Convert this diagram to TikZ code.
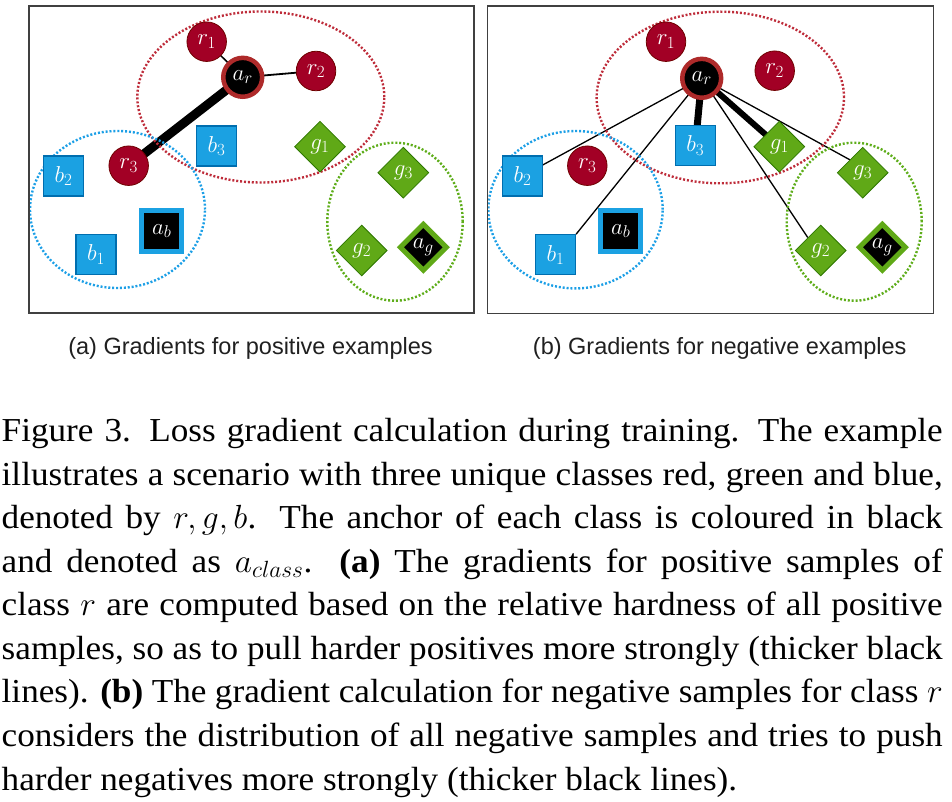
\RequirePackage{fix-cm}
\documentclass[tikz,border=0pt]{standalone}
\usepackage{fontspec}
\setmainfont[FakeStretch=1.05]{Liberation Serif}
\newfontfamily\capsans{Liberation Sans}
\usetikzlibrary{shapes.geometric}
\DeclareMathSizes{23}{23}{17}{13}
\definecolor{rfill}{HTML}{A20025}
\definecolor{rdraw}{HTML}{6F0000}
\definecolor{ring}{HTML}{AE2A2A}
\definecolor{bfill}{HTML}{1BA1E2}
\definecolor{bdraw}{HTML}{006EAF}
\definecolor{gfill}{HTML}{60A917}
\definecolor{gdraw}{HTML}{2D7600}
\definecolor{dotred}{HTML}{BE2C3A}
\definecolor{dotblue}{HTML}{1C9FE6}
\definecolor{dotgreen}{HTML}{5EAD1A}
\definecolor{framegray}{HTML}{404040}
\definecolor{capgray}{HTML}{202020}
\pgfdeclarelayer{bg}
\pgfdeclarelayer{mid}
\pgfsetlayers{bg,mid,main}
\tikzset{
  lab/.style={text=white,font=\fontsize{23}{23}\selectfont,inner sep=0pt},
  rnode/.style={lab,circle,fill=rfill,draw=rdraw,line width=0.8pt,minimum size=39.5pt},
  ranc/.style={lab,circle,fill=black,draw=ring,line width=4.5pt,minimum size=38.9pt},
  bnode/.style={lab,rectangle,fill=bfill,draw=bdraw,line width=1.2pt,minimum size=40pt},
  banc/.style={lab,rectangle,fill=black,draw=bfill,line width=5pt,minimum size=40pt},
  gnode/.style={lab,diamond,aspect=1,fill=gfill,draw=gdraw,line width=0.8pt,minimum size=51pt},
  ganc/.style={lab,diamond,aspect=1,fill=black,draw=gfill,line width=5pt,minimum size=48pt},
  link/.style={draw=black,line width=#1},
  elli/.style={draw=#1,line width=2.4pt,dash pattern=on 2pt off 1.9pt},
  panelframe/.style={draw=framegray,line width=1.3pt},
  subcap/.style={anchor=base,inner sep=0pt,text=capgray,font=\capsans\fontsize{23.5}{28}\selectfont},
  body/.style={anchor=base west,inner sep=0pt,font=\fontsize{33.5}{43.5}\selectfont}
}
\begin{document}
\begin{tikzpicture}[x=1pt,y=-1pt]
\useasboundingbox (0,0) rectangle (952,802);
% frames
\draw[panelframe] (29,6) rectangle (474,313);
\draw[panelframe] (487.7,6) rectangle (933.3,313.3);
% ---------- panel (a) ----------
\node[rnode] (ar1) at (206.7,41.7) {$r_1$};
\node[ranc]  (aar) at (242.7,77.3) {$a_r$};
\node[rnode] (ar2) at (316,71) {$r_2$};
\node[rnode] (ar3) at (128.7,165.7) {$r_3$};
\node[bnode] (ab3) at (216.5,146) {$b_3$};
\node[gnode] (ag1) at (320,146.7) {$g_1$};
\node[bnode] (ab2) at (63.5,176) {$b_2$};
\node[banc]  (aab) at (161.7,231) {$a_b$};
\node[bnode] (ab1) at (96,254.7) {$b_1$};
\node[gnode] (ag3) at (403.3,172.7) {$g_3$};
\node[gnode] (ag2) at (361.7,250.5) {$g_2$};
\node[ganc]  (aag) at (423.3,247.3) {$a_g$};
% ---------- panel (b) ----------
\node[rnode] (br1) at (666,41.7) {$r_1$};
\node[ranc]  (bar) at (701.7,78.3) {$a_r$};
\node[rnode] (br2) at (774.7,70.7) {$r_2$};
\node[rnode] (br3) at (587.3,165.7) {$r_3$};
\node[bnode] (bb3) at (695.3,145.7) {$b_3$};
\node[gnode] (bg1) at (779.3,146.7) {$g_1$};
\node[bnode] (bb2) at (522.5,176) {$b_2$};
\node[banc]  (bab) at (620.7,231) {$a_b$};
\node[bnode] (bb1) at (555.5,254.8) {$b_1$};
\node[gnode] (bg3) at (862.7,172.7) {$g_3$};
\node[gnode] (bg2) at (820.7,250.5) {$g_2$};
\node[ganc]  (bag) at (882.3,247.3) {$a_g$};
% connectors
\begin{pgfonlayer}{bg}
\draw[link=1.5pt] (aar.center) -- (ar1.center);
\draw[link=1.8pt] (aar.center) -- (ar2.center);
\draw[link=9pt]   (aar.center) -- (ar3.center);
\draw[link=1.3pt] (bar.center) -- (bb2.center);
\draw[link=1.3pt] (bar.center) -- (bb1.north east);
\draw[link=7pt]   (bar.center) -- (bb3.center);
\draw[link=6pt]   (bar.center) -- (bg1.center);
\draw[link=1.3pt] (bar.center) -- (bg3.north west);
\draw[link=1.3pt] (bar.center) -- (bg2.north west);
\end{pgfonlayer}
% class ellipses
\begin{pgfonlayer}{mid}
\draw[elli=dotred]   (260.8,97) ellipse [x radius=123.5pt,y radius=85.5pt];
\draw[elli=dotblue]  (117.5,209.5) ellipse [x radius=87.5pt,y radius=78.5pt];
\draw[elli=dotgreen] (395,221.7) ellipse [x radius=67.7pt,y radius=79pt];
\draw[elli=dotred]   (720.3,97.5) ellipse [x radius=123.7pt,y radius=85.8pt];
\draw[elli=dotblue]  (575.5,209.7) ellipse [x radius=87.2pt,y radius=78.7pt];
\draw[elli=dotgreen] (854.2,221.7) ellipse [x radius=67.5pt,y radius=79pt];
\end{pgfonlayer}
% sub-captions
\node[subcap] (capa) at (250.5,354.3) {(a) Gradients for positive examples};
\node[subcap] (capb) at (719.7,354.3) {(b) Gradients for negative examples};
% figure caption
\node[body] (l1) at (1.5,441.7) {\hbox to 941pt{Figure 3. Loss gradient calculation during training. The example}};
\node[body] (l2) at (1.5,485.2) {\hbox to 941pt{illustrates a scenario with three unique classes red, green and blue,}};
\node[body] (l3) at (1.5,528.8) {\hbox to 941pt{denoted by $r, g, b$. The anchor of each class is coloured in black}};
\node[body] (l4) at (1.5,572.3) {\hbox to 941pt{and denoted as $a_{class}$. \textbf{(a)} The gradients for positive samples of}};
\node[body] (l5) at (1.5,615.9) {\hbox to 941pt{class $r$ are computed based on the relative hardness of all positive}};
\node[body] (l6) at (1.5,659.4) {\hbox to 941pt{samples, so as to pull harder positives more strongly (thicker black}};
\node[body] (l7) at (1.5,702.9) {\hbox to 941pt{lines). \textbf{(b)} The gradient calculation for negative samples for class $r$}};
\node[body] (l8) at (1.5,746.5) {\hbox to 941pt{considers the distribution of all negative samples and tries to push}};
\node[body] (l9) at (1.5,790) {\hbox to 941pt{harder negatives more strongly (thicker black lines).\hfill}};
\end{tikzpicture}
\end{document}
